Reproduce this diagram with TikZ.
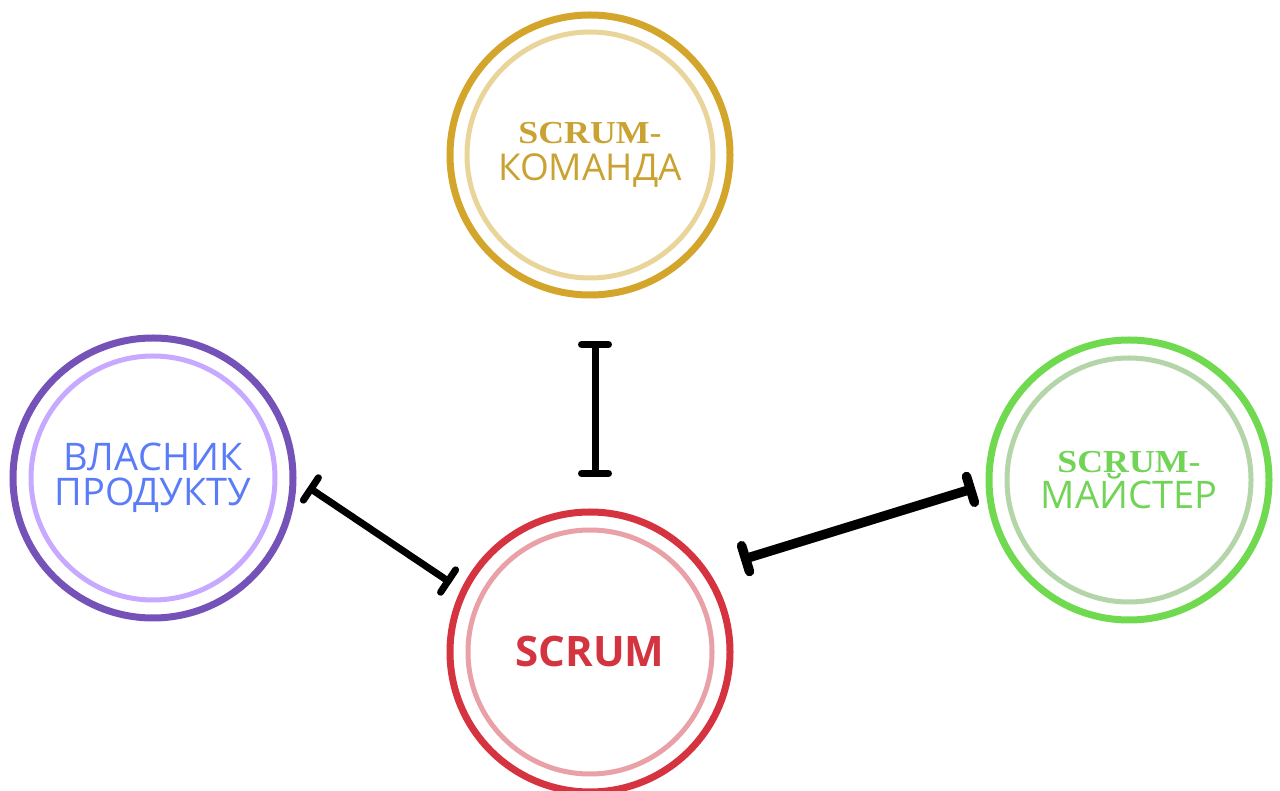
\documentclass[tikz,border=0pt]{standalone}
\usepackage{fontspec}
\setmainfont{Open Sans}
\newfontfamily\decofont[FakeStretch=1.12]{Liberation Serif}
\usetikzlibrary{arrows.meta,calc}

\definecolor{goldOut}{HTML}{D4A52B}
\definecolor{goldIn}{HTML}{E9D59A}
\definecolor{goldText}{HTML}{C9A232}
\definecolor{purpleOut}{HTML}{7452B8}
\definecolor{purpleIn}{HTML}{C7A9FF}
\definecolor{blueText}{HTML}{5A7DF7}
\definecolor{greenOut}{HTML}{6FDA4F}
\definecolor{greenIn}{HTML}{B3D5A8}
\definecolor{greenText}{HTML}{72D456}
\definecolor{redOut}{HTML}{D5333F}
\definecolor{redIn}{HTML}{E9A0A6}
\definecolor{redText}{HTML}{D3343F}

\begin{document}
\begin{tikzpicture}[x=1pt,y=1pt,
  ring/.style={circle, draw=#1, line width=7pt, minimum size=280pt,
               inner sep=0pt, align=center},
  innerring/.style={draw=#1, line width=5pt},
  link/.style={line width=7pt, line cap=round,
               {Bar[width=27pt,round]}-{Bar[width=27pt,round]}}]
\useasboundingbox (0,0) rectangle (1280,790);

% role circles
\node[ring=goldOut, text=goldText, font=\fontsize{37}{37}\selectfont]
  (team) at (590,635) {{\decofont\bfseries\fontsize{32}{37}\selectfont SCRUM-}\\КОМАНДА};
\draw[innerring=goldIn] (team.center) circle[radius=123pt];

\node[ring=purpleOut, text=blueText, font=\fontsize{38}{35}\selectfont]
  (owner) at (153,312) {ВЛАСНИК\\ПРОДУКТУ};
\draw[innerring=purpleIn] (owner.center) circle[radius=122pt];

\node[ring=greenOut, text=greenText, font=\fontsize{38}{35}\selectfont]
  (master) at (1129,310) {{\decofont\bfseries\fontsize{32}{35}\selectfont SCRUM-}\\МАЙСТЕР};
\draw[innerring=greenIn] (master.center) circle[radius=122pt];

\node[ring=redOut, text=redText, font=\fontsize{42}{42}\selectfont\bfseries]
  (scrum) at (590,138) {SCRUM};
\draw[innerring=redIn] (scrum.center) circle[radius=122pt];

% connectors with bar ends
\draw[link] ($(team.center)+(5,-186)$) -- ($(scrum.center)+(5,175)$);
\draw[link] ($(owner.center)+(155,-9)$) -- ($(scrum.center)+(-139,69)$);
\draw[link, line width=9.5pt, {Bar[width=27pt,round]}-{Bar[width=27pt,round]}]
  ($(scrum.center)+(151,92)$) -- ($(master.center)+(-154,-8)$);
\end{tikzpicture}
\end{document}
